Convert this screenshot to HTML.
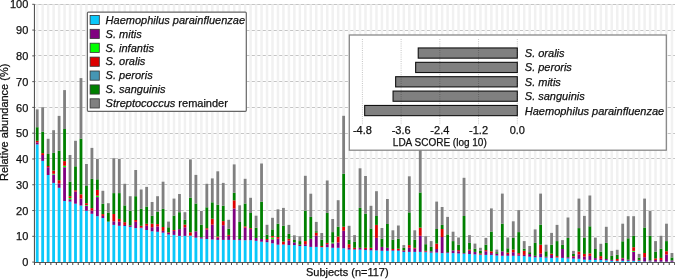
<!DOCTYPE html><html><head><meta charset="utf-8"><style>html,body{margin:0;padding:0;background:#fff;}svg{display:block;filter:blur(0.3px);}text{font-family:"Liberation Sans",sans-serif;stroke:#111;stroke-width:0.25px;}</style></head><body>
<svg width="675" height="279" viewBox="0 0 675 279">
<rect x="0" y="0" width="675" height="279" fill="#fff"/>
<line x1="34.45" y1="236.50" x2="675" y2="236.50" stroke="#c4c4c4" stroke-width="1"/>
<line x1="34.45" y1="210.50" x2="675" y2="210.50" stroke="#c4c4c4" stroke-width="1"/>
<line x1="34.45" y1="184.50" x2="675" y2="184.50" stroke="#c4c4c4" stroke-width="1"/>
<line x1="34.45" y1="158.50" x2="675" y2="158.50" stroke="#c4c4c4" stroke-width="1"/>
<line x1="34.45" y1="133.50" x2="675" y2="133.50" stroke="#c4c4c4" stroke-width="1"/>
<line x1="34.45" y1="107.50" x2="675" y2="107.50" stroke="#c4c4c4" stroke-width="1"/>
<line x1="34.45" y1="81.50" x2="675" y2="81.50" stroke="#c4c4c4" stroke-width="1"/>
<line x1="34.45" y1="55.50" x2="675" y2="55.50" stroke="#c4c4c4" stroke-width="1"/>
<line x1="34.45" y1="30.50" x2="675" y2="30.50" stroke="#c4c4c4" stroke-width="1"/>
<line x1="34.45" y1="4.50" x2="675" y2="4.50" stroke="#c4c4c4" stroke-width="1"/>
<rect x="35.95" y="4.30" width="2.5" height="257.80" fill="#f1f1f1"/>
<rect x="41.42" y="4.30" width="2.5" height="257.80" fill="#f1f1f1"/>
<rect x="46.89" y="4.30" width="2.5" height="257.80" fill="#f1f1f1"/>
<rect x="52.37" y="4.30" width="2.5" height="257.80" fill="#f1f1f1"/>
<rect x="57.84" y="4.30" width="2.5" height="257.80" fill="#f1f1f1"/>
<rect x="63.31" y="4.30" width="2.5" height="257.80" fill="#f1f1f1"/>
<rect x="68.78" y="4.30" width="2.5" height="257.80" fill="#f1f1f1"/>
<rect x="74.25" y="4.30" width="2.5" height="257.80" fill="#f1f1f1"/>
<rect x="79.73" y="4.30" width="2.5" height="257.80" fill="#f1f1f1"/>
<rect x="85.20" y="4.30" width="2.5" height="257.80" fill="#f1f1f1"/>
<rect x="90.67" y="4.30" width="2.5" height="257.80" fill="#f1f1f1"/>
<rect x="96.14" y="4.30" width="2.5" height="257.80" fill="#f1f1f1"/>
<rect x="101.61" y="4.30" width="2.5" height="257.80" fill="#f1f1f1"/>
<rect x="107.09" y="4.30" width="2.5" height="257.80" fill="#f1f1f1"/>
<rect x="112.56" y="4.30" width="2.5" height="257.80" fill="#f1f1f1"/>
<rect x="118.03" y="4.30" width="2.5" height="257.80" fill="#f1f1f1"/>
<rect x="123.50" y="4.30" width="2.5" height="257.80" fill="#f1f1f1"/>
<rect x="128.97" y="4.30" width="2.5" height="257.80" fill="#f1f1f1"/>
<rect x="134.45" y="4.30" width="2.5" height="257.80" fill="#f1f1f1"/>
<rect x="139.92" y="4.30" width="2.5" height="257.80" fill="#f1f1f1"/>
<rect x="145.39" y="4.30" width="2.5" height="257.80" fill="#f1f1f1"/>
<rect x="150.86" y="4.30" width="2.5" height="257.80" fill="#f1f1f1"/>
<rect x="156.33" y="4.30" width="2.5" height="257.80" fill="#f1f1f1"/>
<rect x="161.81" y="4.30" width="2.5" height="257.80" fill="#f1f1f1"/>
<rect x="167.28" y="4.30" width="2.5" height="257.80" fill="#f1f1f1"/>
<rect x="172.75" y="4.30" width="2.5" height="257.80" fill="#f1f1f1"/>
<rect x="178.22" y="4.30" width="2.5" height="257.80" fill="#f1f1f1"/>
<rect x="183.69" y="4.30" width="2.5" height="257.80" fill="#f1f1f1"/>
<rect x="189.17" y="4.30" width="2.5" height="257.80" fill="#f1f1f1"/>
<rect x="194.64" y="4.30" width="2.5" height="257.80" fill="#f1f1f1"/>
<rect x="200.11" y="4.30" width="2.5" height="257.80" fill="#f1f1f1"/>
<rect x="205.58" y="4.30" width="2.5" height="257.80" fill="#f1f1f1"/>
<rect x="211.05" y="4.30" width="2.5" height="257.80" fill="#f1f1f1"/>
<rect x="216.53" y="4.30" width="2.5" height="257.80" fill="#f1f1f1"/>
<rect x="222.00" y="4.30" width="2.5" height="257.80" fill="#f1f1f1"/>
<rect x="227.47" y="4.30" width="2.5" height="257.80" fill="#f1f1f1"/>
<rect x="232.94" y="4.30" width="2.5" height="257.80" fill="#f1f1f1"/>
<rect x="238.41" y="4.30" width="2.5" height="257.80" fill="#f1f1f1"/>
<rect x="243.89" y="4.30" width="2.5" height="257.80" fill="#f1f1f1"/>
<rect x="249.36" y="4.30" width="2.5" height="257.80" fill="#f1f1f1"/>
<rect x="254.83" y="4.30" width="2.5" height="257.80" fill="#f1f1f1"/>
<rect x="260.30" y="4.30" width="2.5" height="257.80" fill="#f1f1f1"/>
<rect x="265.77" y="4.30" width="2.5" height="257.80" fill="#f1f1f1"/>
<rect x="271.25" y="4.30" width="2.5" height="257.80" fill="#f1f1f1"/>
<rect x="276.72" y="4.30" width="2.5" height="257.80" fill="#f1f1f1"/>
<rect x="282.19" y="4.30" width="2.5" height="257.80" fill="#f1f1f1"/>
<rect x="287.66" y="4.30" width="2.5" height="257.80" fill="#f1f1f1"/>
<rect x="293.13" y="4.30" width="2.5" height="257.80" fill="#f1f1f1"/>
<rect x="298.61" y="4.30" width="2.5" height="257.80" fill="#f1f1f1"/>
<rect x="304.08" y="4.30" width="2.5" height="257.80" fill="#f1f1f1"/>
<rect x="309.55" y="4.30" width="2.5" height="257.80" fill="#f1f1f1"/>
<rect x="315.02" y="4.30" width="2.5" height="257.80" fill="#f1f1f1"/>
<rect x="320.49" y="4.30" width="2.5" height="257.80" fill="#f1f1f1"/>
<rect x="325.97" y="4.30" width="2.5" height="257.80" fill="#f1f1f1"/>
<rect x="331.44" y="4.30" width="2.5" height="257.80" fill="#f1f1f1"/>
<rect x="336.91" y="4.30" width="2.5" height="257.80" fill="#f1f1f1"/>
<rect x="342.38" y="4.30" width="2.5" height="257.80" fill="#f1f1f1"/>
<rect x="347.85" y="4.30" width="2.5" height="257.80" fill="#f1f1f1"/>
<rect x="353.33" y="4.30" width="2.5" height="257.80" fill="#f1f1f1"/>
<rect x="358.80" y="4.30" width="2.5" height="257.80" fill="#f1f1f1"/>
<rect x="364.27" y="4.30" width="2.5" height="257.80" fill="#f1f1f1"/>
<rect x="369.74" y="4.30" width="2.5" height="257.80" fill="#f1f1f1"/>
<rect x="375.21" y="4.30" width="2.5" height="257.80" fill="#f1f1f1"/>
<rect x="380.69" y="4.30" width="2.5" height="257.80" fill="#f1f1f1"/>
<rect x="386.16" y="4.30" width="2.5" height="257.80" fill="#f1f1f1"/>
<rect x="391.63" y="4.30" width="2.5" height="257.80" fill="#f1f1f1"/>
<rect x="397.10" y="4.30" width="2.5" height="257.80" fill="#f1f1f1"/>
<rect x="402.57" y="4.30" width="2.5" height="257.80" fill="#f1f1f1"/>
<rect x="408.05" y="4.30" width="2.5" height="257.80" fill="#f1f1f1"/>
<rect x="413.52" y="4.30" width="2.5" height="257.80" fill="#f1f1f1"/>
<rect x="418.99" y="4.30" width="2.5" height="257.80" fill="#f1f1f1"/>
<rect x="424.46" y="4.30" width="2.5" height="257.80" fill="#f1f1f1"/>
<rect x="429.93" y="4.30" width="2.5" height="257.80" fill="#f1f1f1"/>
<rect x="435.41" y="4.30" width="2.5" height="257.80" fill="#f1f1f1"/>
<rect x="440.88" y="4.30" width="2.5" height="257.80" fill="#f1f1f1"/>
<rect x="446.35" y="4.30" width="2.5" height="257.80" fill="#f1f1f1"/>
<rect x="451.82" y="4.30" width="2.5" height="257.80" fill="#f1f1f1"/>
<rect x="457.29" y="4.30" width="2.5" height="257.80" fill="#f1f1f1"/>
<rect x="462.77" y="4.30" width="2.5" height="257.80" fill="#f1f1f1"/>
<rect x="468.24" y="4.30" width="2.5" height="257.80" fill="#f1f1f1"/>
<rect x="473.71" y="4.30" width="2.5" height="257.80" fill="#f1f1f1"/>
<rect x="479.18" y="4.30" width="2.5" height="257.80" fill="#f1f1f1"/>
<rect x="484.65" y="4.30" width="2.5" height="257.80" fill="#f1f1f1"/>
<rect x="490.13" y="4.30" width="2.5" height="257.80" fill="#f1f1f1"/>
<rect x="495.60" y="4.30" width="2.5" height="257.80" fill="#f1f1f1"/>
<rect x="501.07" y="4.30" width="2.5" height="257.80" fill="#f1f1f1"/>
<rect x="506.54" y="4.30" width="2.5" height="257.80" fill="#f1f1f1"/>
<rect x="512.01" y="4.30" width="2.5" height="257.80" fill="#f1f1f1"/>
<rect x="517.49" y="4.30" width="2.5" height="257.80" fill="#f1f1f1"/>
<rect x="522.96" y="4.30" width="2.5" height="257.80" fill="#f1f1f1"/>
<rect x="528.43" y="4.30" width="2.5" height="257.80" fill="#f1f1f1"/>
<rect x="533.90" y="4.30" width="2.5" height="257.80" fill="#f1f1f1"/>
<rect x="539.37" y="4.30" width="2.5" height="257.80" fill="#f1f1f1"/>
<rect x="544.85" y="4.30" width="2.5" height="257.80" fill="#f1f1f1"/>
<rect x="550.32" y="4.30" width="2.5" height="257.80" fill="#f1f1f1"/>
<rect x="555.79" y="4.30" width="2.5" height="257.80" fill="#f1f1f1"/>
<rect x="561.26" y="4.30" width="2.5" height="257.80" fill="#f1f1f1"/>
<rect x="566.73" y="4.30" width="2.5" height="257.80" fill="#f1f1f1"/>
<rect x="572.21" y="4.30" width="2.5" height="257.80" fill="#f1f1f1"/>
<rect x="577.68" y="4.30" width="2.5" height="257.80" fill="#f1f1f1"/>
<rect x="583.15" y="4.30" width="2.5" height="257.80" fill="#f1f1f1"/>
<rect x="588.62" y="4.30" width="2.5" height="257.80" fill="#f1f1f1"/>
<rect x="594.09" y="4.30" width="2.5" height="257.80" fill="#f1f1f1"/>
<rect x="599.57" y="4.30" width="2.5" height="257.80" fill="#f1f1f1"/>
<rect x="605.04" y="4.30" width="2.5" height="257.80" fill="#f1f1f1"/>
<rect x="610.51" y="4.30" width="2.5" height="257.80" fill="#f1f1f1"/>
<rect x="615.98" y="4.30" width="2.5" height="257.80" fill="#f1f1f1"/>
<rect x="621.45" y="4.30" width="2.5" height="257.80" fill="#f1f1f1"/>
<rect x="626.93" y="4.30" width="2.5" height="257.80" fill="#f1f1f1"/>
<rect x="632.40" y="4.30" width="2.5" height="257.80" fill="#f1f1f1"/>
<rect x="637.87" y="4.30" width="2.5" height="257.80" fill="#f1f1f1"/>
<rect x="643.34" y="4.30" width="2.5" height="257.80" fill="#f1f1f1"/>
<rect x="648.81" y="4.30" width="2.5" height="257.80" fill="#f1f1f1"/>
<rect x="654.29" y="4.30" width="2.5" height="257.80" fill="#f1f1f1"/>
<rect x="659.76" y="4.30" width="2.5" height="257.80" fill="#f1f1f1"/>
<rect x="665.23" y="4.30" width="2.5" height="257.80" fill="#f1f1f1"/>
<rect x="670.70" y="4.30" width="2.5" height="257.80" fill="#f1f1f1"/>
<rect x="35.80" y="144.40" width="2.8" height="117.70" fill="#0AC8FA"/>
<rect x="35.80" y="142.40" width="2.8" height="2.00" fill="#800080"/>
<rect x="35.80" y="140.80" width="2.8" height="1.60" fill="#DD0000"/>
<rect x="35.80" y="127.20" width="2.8" height="13.60" fill="#008000"/>
<rect x="35.80" y="109.40" width="2.8" height="17.80" fill="#808080"/>
<rect x="41.27" y="160.90" width="2.8" height="101.20" fill="#0AC8FA"/>
<rect x="41.27" y="155.00" width="2.8" height="5.90" fill="#800080"/>
<rect x="41.27" y="153.10" width="2.8" height="1.90" fill="#DD0000"/>
<rect x="41.27" y="131.70" width="2.8" height="21.40" fill="#008000"/>
<rect x="41.27" y="107.20" width="2.8" height="24.50" fill="#808080"/>
<rect x="46.74" y="175.00" width="2.8" height="87.10" fill="#0AC8FA"/>
<rect x="46.74" y="167.20" width="2.8" height="7.80" fill="#800080"/>
<rect x="46.74" y="166.00" width="2.8" height="1.20" fill="#DD0000"/>
<rect x="46.74" y="154.00" width="2.8" height="12.00" fill="#008000"/>
<rect x="46.74" y="138.80" width="2.8" height="15.20" fill="#808080"/>
<rect x="52.22" y="182.90" width="2.8" height="79.20" fill="#0AC8FA"/>
<rect x="52.22" y="174.50" width="2.8" height="8.40" fill="#800080"/>
<rect x="52.22" y="173.80" width="2.8" height="0.70" fill="#00FF00"/>
<rect x="52.22" y="170.60" width="2.8" height="3.20" fill="#DD0000"/>
<rect x="52.22" y="152.90" width="2.8" height="17.70" fill="#008000"/>
<rect x="52.22" y="130.20" width="2.8" height="22.70" fill="#808080"/>
<rect x="57.69" y="187.80" width="2.8" height="74.30" fill="#0AC8FA"/>
<rect x="57.69" y="183.40" width="2.8" height="4.40" fill="#800080"/>
<rect x="57.69" y="180.20" width="2.8" height="3.20" fill="#DD0000"/>
<rect x="57.69" y="150.60" width="2.8" height="29.60" fill="#008000"/>
<rect x="57.69" y="115.90" width="2.8" height="34.70" fill="#808080"/>
<rect x="63.16" y="201.00" width="2.8" height="61.10" fill="#0AC8FA"/>
<rect x="63.16" y="167.20" width="2.8" height="33.80" fill="#800080"/>
<rect x="63.16" y="165.80" width="2.8" height="1.40" fill="#00FF00"/>
<rect x="63.16" y="161.10" width="2.8" height="4.70" fill="#DD0000"/>
<rect x="63.16" y="129.00" width="2.8" height="32.10" fill="#008000"/>
<rect x="63.16" y="90.10" width="2.8" height="38.90" fill="#808080"/>
<rect x="68.63" y="201.60" width="2.8" height="60.50" fill="#0AC8FA"/>
<rect x="68.63" y="199.20" width="2.8" height="2.40" fill="#800080"/>
<rect x="68.63" y="198.00" width="2.8" height="1.20" fill="#00FF00"/>
<rect x="68.63" y="196.20" width="2.8" height="1.80" fill="#DD0000"/>
<rect x="68.63" y="181.60" width="2.8" height="14.60" fill="#008000"/>
<rect x="68.63" y="155.00" width="2.8" height="26.60" fill="#808080"/>
<rect x="74.10" y="203.70" width="2.8" height="58.40" fill="#0AC8FA"/>
<rect x="74.10" y="191.60" width="2.8" height="12.10" fill="#800080"/>
<rect x="74.10" y="190.20" width="2.8" height="1.40" fill="#DD0000"/>
<rect x="74.10" y="166.30" width="2.8" height="23.90" fill="#008000"/>
<rect x="74.10" y="140.80" width="2.8" height="25.50" fill="#808080"/>
<rect x="79.58" y="205.50" width="2.8" height="56.60" fill="#0AC8FA"/>
<rect x="79.58" y="198.60" width="2.8" height="6.90" fill="#800080"/>
<rect x="79.58" y="194.30" width="2.8" height="4.30" fill="#DD0000"/>
<rect x="79.58" y="138.60" width="2.8" height="55.70" fill="#008000"/>
<rect x="79.58" y="78.10" width="2.8" height="60.50" fill="#808080"/>
<rect x="85.05" y="210.80" width="2.8" height="51.30" fill="#0AC8FA"/>
<rect x="85.05" y="205.70" width="2.8" height="5.10" fill="#800080"/>
<rect x="85.05" y="205.00" width="2.8" height="0.70" fill="#00FF00"/>
<rect x="85.05" y="203.20" width="2.8" height="1.80" fill="#DD0000"/>
<rect x="85.05" y="186.00" width="2.8" height="17.20" fill="#008000"/>
<rect x="85.05" y="164.00" width="2.8" height="22.00" fill="#808080"/>
<rect x="90.52" y="213.80" width="2.8" height="48.30" fill="#0AC8FA"/>
<rect x="90.52" y="210.60" width="2.8" height="3.20" fill="#800080"/>
<rect x="90.52" y="208.10" width="2.8" height="2.50" fill="#DD0000"/>
<rect x="90.52" y="178.90" width="2.8" height="29.20" fill="#008000"/>
<rect x="90.52" y="147.90" width="2.8" height="31.00" fill="#808080"/>
<rect x="95.99" y="216.20" width="2.8" height="45.90" fill="#0AC8FA"/>
<rect x="95.99" y="197.10" width="2.8" height="19.10" fill="#800080"/>
<rect x="95.99" y="195.70" width="2.8" height="1.40" fill="#00FF00"/>
<rect x="95.99" y="189.90" width="2.8" height="5.80" fill="#DD0000"/>
<rect x="95.99" y="179.30" width="2.8" height="10.60" fill="#008000"/>
<rect x="95.99" y="158.90" width="2.8" height="20.40" fill="#808080"/>
<rect x="101.46" y="218.00" width="2.8" height="44.10" fill="#0AC8FA"/>
<rect x="101.46" y="215.90" width="2.8" height="2.10" fill="#800080"/>
<rect x="101.46" y="214.10" width="2.8" height="1.80" fill="#DD0000"/>
<rect x="101.46" y="203.80" width="2.8" height="10.30" fill="#008000"/>
<rect x="101.46" y="190.80" width="2.8" height="13.00" fill="#808080"/>
<rect x="106.94" y="221.60" width="2.8" height="40.50" fill="#0AC8FA"/>
<rect x="106.94" y="212.60" width="2.8" height="9.00" fill="#008000"/>
<rect x="106.94" y="203.20" width="2.8" height="9.40" fill="#808080"/>
<rect x="112.41" y="224.90" width="2.8" height="37.20" fill="#0AC8FA"/>
<rect x="112.41" y="221.30" width="2.8" height="3.60" fill="#800080"/>
<rect x="112.41" y="214.00" width="2.8" height="7.30" fill="#DD0000"/>
<rect x="112.41" y="193.10" width="2.8" height="20.90" fill="#008000"/>
<rect x="112.41" y="158.20" width="2.8" height="34.90" fill="#808080"/>
<rect x="117.88" y="225.80" width="2.8" height="36.30" fill="#0AC8FA"/>
<rect x="117.88" y="221.60" width="2.8" height="4.20" fill="#800080"/>
<rect x="117.88" y="218.90" width="2.8" height="2.70" fill="#DD0000"/>
<rect x="117.88" y="193.10" width="2.8" height="25.80" fill="#008000"/>
<rect x="117.88" y="158.90" width="2.8" height="34.20" fill="#808080"/>
<rect x="123.35" y="226.00" width="2.8" height="36.10" fill="#0AC8FA"/>
<rect x="123.35" y="224.90" width="2.8" height="1.10" fill="#800080"/>
<rect x="123.35" y="222.20" width="2.8" height="2.70" fill="#DD0000"/>
<rect x="123.35" y="205.40" width="2.8" height="16.80" fill="#008000"/>
<rect x="123.35" y="183.80" width="2.8" height="21.60" fill="#808080"/>
<rect x="128.82" y="226.90" width="2.8" height="35.20" fill="#0AC8FA"/>
<rect x="128.82" y="225.40" width="2.8" height="1.50" fill="#800080"/>
<rect x="128.82" y="210.80" width="2.8" height="14.60" fill="#008000"/>
<rect x="128.82" y="196.20" width="2.8" height="14.60" fill="#808080"/>
<rect x="134.30" y="228.10" width="2.8" height="34.00" fill="#0AC8FA"/>
<rect x="134.30" y="221.80" width="2.8" height="6.30" fill="#800080"/>
<rect x="134.30" y="220.00" width="2.8" height="1.80" fill="#DD0000"/>
<rect x="134.30" y="196.20" width="2.8" height="23.80" fill="#008000"/>
<rect x="134.30" y="170.00" width="2.8" height="26.20" fill="#808080"/>
<rect x="139.77" y="228.20" width="2.8" height="33.90" fill="#0AC8FA"/>
<rect x="139.77" y="227.40" width="2.8" height="0.80" fill="#800080"/>
<rect x="139.77" y="225.80" width="2.8" height="1.60" fill="#DD0000"/>
<rect x="139.77" y="208.80" width="2.8" height="17.00" fill="#008000"/>
<rect x="139.77" y="189.50" width="2.8" height="19.30" fill="#808080"/>
<rect x="145.24" y="230.00" width="2.8" height="32.10" fill="#0AC8FA"/>
<rect x="145.24" y="225.80" width="2.8" height="4.20" fill="#800080"/>
<rect x="145.24" y="223.80" width="2.8" height="2.00" fill="#DD0000"/>
<rect x="145.24" y="206.50" width="2.8" height="17.30" fill="#008000"/>
<rect x="145.24" y="186.90" width="2.8" height="19.60" fill="#808080"/>
<rect x="150.71" y="231.30" width="2.8" height="30.80" fill="#0AC8FA"/>
<rect x="150.71" y="227.20" width="2.8" height="4.10" fill="#800080"/>
<rect x="150.71" y="223.70" width="2.8" height="3.50" fill="#DD0000"/>
<rect x="150.71" y="215.80" width="2.8" height="7.90" fill="#008000"/>
<rect x="150.71" y="202.00" width="2.8" height="13.80" fill="#808080"/>
<rect x="156.18" y="231.80" width="2.8" height="30.30" fill="#0AC8FA"/>
<rect x="156.18" y="226.40" width="2.8" height="5.40" fill="#800080"/>
<rect x="156.18" y="224.10" width="2.8" height="2.30" fill="#DD0000"/>
<rect x="156.18" y="211.80" width="2.8" height="12.30" fill="#008000"/>
<rect x="156.18" y="196.20" width="2.8" height="15.60" fill="#808080"/>
<rect x="161.66" y="232.70" width="2.8" height="29.40" fill="#0AC8FA"/>
<rect x="161.66" y="230.90" width="2.8" height="1.80" fill="#800080"/>
<rect x="161.66" y="227.00" width="2.8" height="3.90" fill="#DD0000"/>
<rect x="161.66" y="208.90" width="2.8" height="18.10" fill="#008000"/>
<rect x="161.66" y="181.70" width="2.8" height="27.20" fill="#808080"/>
<rect x="167.13" y="234.50" width="2.8" height="27.60" fill="#0AC8FA"/>
<rect x="167.13" y="233.00" width="2.8" height="1.50" fill="#800080"/>
<rect x="167.13" y="232.30" width="2.8" height="0.70" fill="#DD0000"/>
<rect x="167.13" y="227.30" width="2.8" height="5.00" fill="#008000"/>
<rect x="167.13" y="221.60" width="2.8" height="5.70" fill="#808080"/>
<rect x="172.60" y="234.90" width="2.8" height="27.20" fill="#0AC8FA"/>
<rect x="172.60" y="230.90" width="2.8" height="4.00" fill="#800080"/>
<rect x="172.60" y="230.00" width="2.8" height="0.90" fill="#DD0000"/>
<rect x="172.60" y="215.60" width="2.8" height="14.40" fill="#008000"/>
<rect x="172.60" y="198.60" width="2.8" height="17.00" fill="#808080"/>
<rect x="178.07" y="235.90" width="2.8" height="26.20" fill="#0AC8FA"/>
<rect x="178.07" y="229.10" width="2.8" height="6.80" fill="#800080"/>
<rect x="178.07" y="212.20" width="2.8" height="16.90" fill="#008000"/>
<rect x="178.07" y="194.00" width="2.8" height="18.20" fill="#808080"/>
<rect x="183.54" y="235.90" width="2.8" height="26.20" fill="#0AC8FA"/>
<rect x="183.54" y="227.30" width="2.8" height="8.60" fill="#800080"/>
<rect x="183.54" y="224.60" width="2.8" height="2.70" fill="#DD0000"/>
<rect x="183.54" y="219.80" width="2.8" height="4.80" fill="#008000"/>
<rect x="183.54" y="212.20" width="2.8" height="7.60" fill="#808080"/>
<rect x="189.02" y="235.90" width="2.8" height="26.20" fill="#0AC8FA"/>
<rect x="189.02" y="235.40" width="2.8" height="0.50" fill="#800080"/>
<rect x="189.02" y="232.30" width="2.8" height="3.10" fill="#DD0000"/>
<rect x="189.02" y="197.70" width="2.8" height="34.60" fill="#008000"/>
<rect x="189.02" y="159.40" width="2.8" height="38.30" fill="#808080"/>
<rect x="194.49" y="237.70" width="2.8" height="24.40" fill="#0AC8FA"/>
<rect x="194.49" y="231.30" width="2.8" height="6.40" fill="#800080"/>
<rect x="194.49" y="203.50" width="2.8" height="27.80" fill="#008000"/>
<rect x="194.49" y="174.90" width="2.8" height="28.60" fill="#808080"/>
<rect x="199.96" y="238.60" width="2.8" height="23.50" fill="#0AC8FA"/>
<rect x="199.96" y="237.20" width="2.8" height="1.40" fill="#800080"/>
<rect x="199.96" y="224.60" width="2.8" height="12.60" fill="#008000"/>
<rect x="199.96" y="211.00" width="2.8" height="13.60" fill="#808080"/>
<rect x="205.43" y="239.00" width="2.8" height="23.10" fill="#0AC8FA"/>
<rect x="205.43" y="229.50" width="2.8" height="9.50" fill="#800080"/>
<rect x="205.43" y="228.20" width="2.8" height="1.30" fill="#DD0000"/>
<rect x="205.43" y="207.30" width="2.8" height="20.90" fill="#008000"/>
<rect x="205.43" y="183.80" width="2.8" height="23.50" fill="#808080"/>
<rect x="210.90" y="239.50" width="2.8" height="22.60" fill="#0AC8FA"/>
<rect x="210.90" y="224.60" width="2.8" height="14.90" fill="#800080"/>
<rect x="210.90" y="218.70" width="2.8" height="5.90" fill="#DD0000"/>
<rect x="210.90" y="202.30" width="2.8" height="16.40" fill="#008000"/>
<rect x="210.90" y="178.40" width="2.8" height="23.90" fill="#808080"/>
<rect x="216.38" y="239.90" width="2.8" height="22.20" fill="#0AC8FA"/>
<rect x="216.38" y="237.70" width="2.8" height="2.20" fill="#800080"/>
<rect x="216.38" y="236.60" width="2.8" height="1.10" fill="#DD0000"/>
<rect x="216.38" y="204.80" width="2.8" height="31.80" fill="#008000"/>
<rect x="216.38" y="171.30" width="2.8" height="33.50" fill="#808080"/>
<rect x="221.85" y="239.90" width="2.8" height="22.20" fill="#0AC8FA"/>
<rect x="221.85" y="225.20" width="2.8" height="14.70" fill="#800080"/>
<rect x="221.85" y="221.10" width="2.8" height="4.10" fill="#DD0000"/>
<rect x="221.85" y="205.70" width="2.8" height="15.40" fill="#008000"/>
<rect x="221.85" y="182.90" width="2.8" height="22.80" fill="#808080"/>
<rect x="227.32" y="239.90" width="2.8" height="22.20" fill="#0AC8FA"/>
<rect x="227.32" y="235.90" width="2.8" height="4.00" fill="#800080"/>
<rect x="227.32" y="234.90" width="2.8" height="1.00" fill="#DD0000"/>
<rect x="227.32" y="228.80" width="2.8" height="6.10" fill="#008000"/>
<rect x="227.32" y="219.80" width="2.8" height="9.00" fill="#808080"/>
<rect x="232.79" y="239.90" width="2.8" height="22.20" fill="#0AC8FA"/>
<rect x="232.79" y="208.50" width="2.8" height="31.40" fill="#800080"/>
<rect x="232.79" y="200.30" width="2.8" height="8.20" fill="#DD0000"/>
<rect x="232.79" y="192.80" width="2.8" height="7.50" fill="#008000"/>
<rect x="232.79" y="164.40" width="2.8" height="28.40" fill="#808080"/>
<rect x="238.26" y="240.20" width="2.8" height="21.90" fill="#0AC8FA"/>
<rect x="238.26" y="239.00" width="2.8" height="1.20" fill="#800080"/>
<rect x="238.26" y="222.00" width="2.8" height="17.00" fill="#008000"/>
<rect x="238.26" y="205.30" width="2.8" height="16.70" fill="#808080"/>
<rect x="243.74" y="240.20" width="2.8" height="21.90" fill="#0AC8FA"/>
<rect x="243.74" y="227.70" width="2.8" height="12.50" fill="#800080"/>
<rect x="243.74" y="226.40" width="2.8" height="1.30" fill="#DD0000"/>
<rect x="243.74" y="203.50" width="2.8" height="22.90" fill="#008000"/>
<rect x="243.74" y="178.80" width="2.8" height="24.70" fill="#808080"/>
<rect x="249.21" y="240.20" width="2.8" height="21.90" fill="#0AC8FA"/>
<rect x="249.21" y="229.10" width="2.8" height="11.10" fill="#800080"/>
<rect x="249.21" y="228.20" width="2.8" height="0.90" fill="#DD0000"/>
<rect x="249.21" y="213.00" width="2.8" height="15.20" fill="#008000"/>
<rect x="249.21" y="197.80" width="2.8" height="15.20" fill="#808080"/>
<rect x="254.68" y="240.80" width="2.8" height="21.30" fill="#0AC8FA"/>
<rect x="254.68" y="238.00" width="2.8" height="2.80" fill="#800080"/>
<rect x="254.68" y="227.70" width="2.8" height="10.30" fill="#008000"/>
<rect x="254.68" y="215.70" width="2.8" height="12.00" fill="#808080"/>
<rect x="260.15" y="241.70" width="2.8" height="20.40" fill="#0AC8FA"/>
<rect x="260.15" y="239.00" width="2.8" height="2.70" fill="#800080"/>
<rect x="260.15" y="201.70" width="2.8" height="37.30" fill="#008000"/>
<rect x="260.15" y="163.50" width="2.8" height="38.20" fill="#808080"/>
<rect x="265.62" y="242.20" width="2.8" height="19.90" fill="#0AC8FA"/>
<rect x="265.62" y="240.10" width="2.8" height="2.10" fill="#800080"/>
<rect x="265.62" y="239.00" width="2.8" height="1.10" fill="#DD0000"/>
<rect x="265.62" y="234.60" width="2.8" height="4.40" fill="#008000"/>
<rect x="265.62" y="224.80" width="2.8" height="9.80" fill="#808080"/>
<rect x="271.10" y="243.30" width="2.8" height="18.80" fill="#0AC8FA"/>
<rect x="271.10" y="239.30" width="2.8" height="4.00" fill="#800080"/>
<rect x="271.10" y="237.50" width="2.8" height="1.80" fill="#00FF00"/>
<rect x="271.10" y="236.10" width="2.8" height="1.40" fill="#DD0000"/>
<rect x="271.10" y="229.40" width="2.8" height="6.70" fill="#008000"/>
<rect x="271.10" y="217.80" width="2.8" height="11.60" fill="#808080"/>
<rect x="276.57" y="244.70" width="2.8" height="17.40" fill="#0AC8FA"/>
<rect x="276.57" y="238.80" width="2.8" height="5.90" fill="#800080"/>
<rect x="276.57" y="237.00" width="2.8" height="1.80" fill="#DD0000"/>
<rect x="276.57" y="223.70" width="2.8" height="13.30" fill="#008000"/>
<rect x="276.57" y="209.30" width="2.8" height="14.40" fill="#808080"/>
<rect x="282.04" y="244.70" width="2.8" height="17.40" fill="#0AC8FA"/>
<rect x="282.04" y="244.20" width="2.8" height="0.50" fill="#800080"/>
<rect x="282.04" y="241.50" width="2.8" height="2.70" fill="#DD0000"/>
<rect x="282.04" y="225.80" width="2.8" height="15.70" fill="#008000"/>
<rect x="282.04" y="207.90" width="2.8" height="17.90" fill="#808080"/>
<rect x="287.51" y="245.10" width="2.8" height="17.00" fill="#0AC8FA"/>
<rect x="287.51" y="240.60" width="2.8" height="4.50" fill="#800080"/>
<rect x="287.51" y="238.80" width="2.8" height="1.80" fill="#DD0000"/>
<rect x="287.51" y="233.90" width="2.8" height="4.90" fill="#008000"/>
<rect x="287.51" y="224.90" width="2.8" height="9.00" fill="#808080"/>
<rect x="292.98" y="245.10" width="2.8" height="17.00" fill="#0AC8FA"/>
<rect x="292.98" y="242.40" width="2.8" height="2.70" fill="#800080"/>
<rect x="292.98" y="240.00" width="2.8" height="2.40" fill="#008000"/>
<rect x="292.98" y="235.30" width="2.8" height="4.70" fill="#808080"/>
<rect x="298.46" y="246.00" width="2.8" height="16.10" fill="#0AC8FA"/>
<rect x="298.46" y="244.70" width="2.8" height="1.30" fill="#800080"/>
<rect x="298.46" y="241.10" width="2.8" height="3.60" fill="#008000"/>
<rect x="298.46" y="236.20" width="2.8" height="4.90" fill="#808080"/>
<rect x="303.93" y="246.00" width="2.8" height="16.10" fill="#0AC8FA"/>
<rect x="303.93" y="244.20" width="2.8" height="1.80" fill="#800080"/>
<rect x="303.93" y="241.10" width="2.8" height="3.10" fill="#DD0000"/>
<rect x="303.93" y="210.60" width="2.8" height="30.50" fill="#008000"/>
<rect x="303.93" y="175.80" width="2.8" height="34.80" fill="#808080"/>
<rect x="309.40" y="246.90" width="2.8" height="15.20" fill="#0AC8FA"/>
<rect x="309.40" y="238.80" width="2.8" height="8.10" fill="#800080"/>
<rect x="309.40" y="216.90" width="2.8" height="21.90" fill="#008000"/>
<rect x="309.40" y="193.70" width="2.8" height="23.20" fill="#808080"/>
<rect x="314.87" y="246.90" width="2.8" height="15.20" fill="#0AC8FA"/>
<rect x="314.87" y="235.70" width="2.8" height="11.20" fill="#800080"/>
<rect x="314.87" y="232.60" width="2.8" height="3.10" fill="#DD0000"/>
<rect x="314.87" y="231.20" width="2.8" height="1.40" fill="#008000"/>
<rect x="314.87" y="221.90" width="2.8" height="9.30" fill="#808080"/>
<rect x="320.34" y="247.20" width="2.8" height="14.90" fill="#0AC8FA"/>
<rect x="320.34" y="246.00" width="2.8" height="1.20" fill="#DD0000"/>
<rect x="320.34" y="239.70" width="2.8" height="6.30" fill="#008000"/>
<rect x="320.34" y="233.00" width="2.8" height="6.70" fill="#808080"/>
<rect x="325.82" y="247.20" width="2.8" height="14.90" fill="#0AC8FA"/>
<rect x="325.82" y="244.20" width="2.8" height="3.00" fill="#800080"/>
<rect x="325.82" y="242.90" width="2.8" height="1.30" fill="#DD0000"/>
<rect x="325.82" y="212.90" width="2.8" height="30.00" fill="#008000"/>
<rect x="325.82" y="180.50" width="2.8" height="32.40" fill="#808080"/>
<rect x="331.29" y="247.80" width="2.8" height="14.30" fill="#0AC8FA"/>
<rect x="331.29" y="243.30" width="2.8" height="4.50" fill="#800080"/>
<rect x="331.29" y="242.40" width="2.8" height="0.90" fill="#00FF00"/>
<rect x="331.29" y="232.10" width="2.8" height="10.30" fill="#008000"/>
<rect x="331.29" y="219.00" width="2.8" height="13.10" fill="#808080"/>
<rect x="336.76" y="247.80" width="2.8" height="14.30" fill="#0AC8FA"/>
<rect x="336.76" y="242.40" width="2.8" height="5.40" fill="#800080"/>
<rect x="336.76" y="236.50" width="2.8" height="5.90" fill="#DD0000"/>
<rect x="336.76" y="226.70" width="2.8" height="9.80" fill="#008000"/>
<rect x="336.76" y="200.20" width="2.8" height="26.50" fill="#808080"/>
<rect x="342.23" y="248.30" width="2.8" height="13.80" fill="#0AC8FA"/>
<rect x="342.23" y="230.80" width="2.8" height="17.50" fill="#800080"/>
<rect x="342.23" y="226.70" width="2.8" height="4.10" fill="#DD0000"/>
<rect x="342.23" y="173.70" width="2.8" height="53.00" fill="#008000"/>
<rect x="342.23" y="115.80" width="2.8" height="57.90" fill="#808080"/>
<rect x="347.70" y="249.60" width="2.8" height="12.50" fill="#0AC8FA"/>
<rect x="347.70" y="247.80" width="2.8" height="1.80" fill="#800080"/>
<rect x="347.70" y="244.20" width="2.8" height="3.60" fill="#DD0000"/>
<rect x="347.70" y="239.70" width="2.8" height="4.50" fill="#008000"/>
<rect x="347.70" y="225.80" width="2.8" height="13.90" fill="#808080"/>
<rect x="353.18" y="249.60" width="2.8" height="12.50" fill="#0AC8FA"/>
<rect x="353.18" y="249.00" width="2.8" height="0.60" fill="#800080"/>
<rect x="353.18" y="247.80" width="2.8" height="1.20" fill="#DD0000"/>
<rect x="353.18" y="241.90" width="2.8" height="5.90" fill="#008000"/>
<rect x="353.18" y="235.10" width="2.8" height="6.80" fill="#808080"/>
<rect x="358.65" y="249.60" width="2.8" height="12.50" fill="#0AC8FA"/>
<rect x="358.65" y="247.80" width="2.8" height="1.80" fill="#800080"/>
<rect x="358.65" y="207.90" width="2.8" height="39.90" fill="#008000"/>
<rect x="358.65" y="168.30" width="2.8" height="39.60" fill="#808080"/>
<rect x="364.12" y="250.10" width="2.8" height="12.00" fill="#0AC8FA"/>
<rect x="364.12" y="249.00" width="2.8" height="1.10" fill="#800080"/>
<rect x="364.12" y="247.80" width="2.8" height="1.20" fill="#DD0000"/>
<rect x="364.12" y="213.60" width="2.8" height="34.20" fill="#008000"/>
<rect x="364.12" y="176.00" width="2.8" height="37.60" fill="#808080"/>
<rect x="369.59" y="250.40" width="2.8" height="11.70" fill="#0AC8FA"/>
<rect x="369.59" y="249.00" width="2.8" height="1.40" fill="#800080"/>
<rect x="369.59" y="247.80" width="2.8" height="1.20" fill="#DD0000"/>
<rect x="369.59" y="228.50" width="2.8" height="19.30" fill="#008000"/>
<rect x="369.59" y="205.80" width="2.8" height="22.70" fill="#808080"/>
<rect x="375.06" y="250.40" width="2.8" height="11.70" fill="#0AC8FA"/>
<rect x="375.06" y="237.90" width="2.8" height="12.50" fill="#800080"/>
<rect x="375.06" y="224.90" width="2.8" height="13.00" fill="#DD0000"/>
<rect x="375.06" y="216.00" width="2.8" height="8.90" fill="#008000"/>
<rect x="375.06" y="191.20" width="2.8" height="24.80" fill="#808080"/>
<rect x="380.54" y="250.80" width="2.8" height="11.30" fill="#0AC8FA"/>
<rect x="380.54" y="246.90" width="2.8" height="3.90" fill="#800080"/>
<rect x="380.54" y="238.80" width="2.8" height="8.10" fill="#008000"/>
<rect x="380.54" y="228.00" width="2.8" height="10.80" fill="#808080"/>
<rect x="386.01" y="250.80" width="2.8" height="11.30" fill="#0AC8FA"/>
<rect x="386.01" y="247.80" width="2.8" height="3.00" fill="#800080"/>
<rect x="386.01" y="224.00" width="2.8" height="23.80" fill="#008000"/>
<rect x="386.01" y="199.00" width="2.8" height="25.00" fill="#808080"/>
<rect x="391.48" y="250.80" width="2.8" height="11.30" fill="#0AC8FA"/>
<rect x="391.48" y="250.10" width="2.8" height="0.70" fill="#800080"/>
<rect x="391.48" y="249.00" width="2.8" height="1.10" fill="#DD0000"/>
<rect x="391.48" y="239.70" width="2.8" height="9.30" fill="#008000"/>
<rect x="391.48" y="230.30" width="2.8" height="9.40" fill="#808080"/>
<rect x="396.95" y="250.80" width="2.8" height="11.30" fill="#0AC8FA"/>
<rect x="396.95" y="250.10" width="2.8" height="0.70" fill="#800080"/>
<rect x="396.95" y="248.70" width="2.8" height="1.40" fill="#DD0000"/>
<rect x="396.95" y="238.80" width="2.8" height="9.90" fill="#008000"/>
<rect x="396.95" y="225.50" width="2.8" height="13.30" fill="#808080"/>
<rect x="402.42" y="251.90" width="2.8" height="10.20" fill="#0AC8FA"/>
<rect x="402.42" y="251.00" width="2.8" height="0.90" fill="#800080"/>
<rect x="402.42" y="250.40" width="2.8" height="0.60" fill="#DD0000"/>
<rect x="402.42" y="247.80" width="2.8" height="2.60" fill="#008000"/>
<rect x="402.42" y="245.10" width="2.8" height="2.70" fill="#808080"/>
<rect x="407.90" y="251.90" width="2.8" height="10.20" fill="#0AC8FA"/>
<rect x="407.90" y="247.80" width="2.8" height="4.10" fill="#800080"/>
<rect x="407.90" y="245.10" width="2.8" height="2.70" fill="#DD0000"/>
<rect x="407.90" y="212.40" width="2.8" height="32.70" fill="#008000"/>
<rect x="407.90" y="176.30" width="2.8" height="36.10" fill="#808080"/>
<rect x="413.37" y="251.90" width="2.8" height="10.20" fill="#0AC8FA"/>
<rect x="413.37" y="248.70" width="2.8" height="3.20" fill="#800080"/>
<rect x="413.37" y="247.80" width="2.8" height="0.90" fill="#DD0000"/>
<rect x="413.37" y="239.70" width="2.8" height="8.10" fill="#008000"/>
<rect x="413.37" y="230.30" width="2.8" height="9.40" fill="#808080"/>
<rect x="418.84" y="251.90" width="2.8" height="10.20" fill="#0AC8FA"/>
<rect x="418.84" y="235.80" width="2.8" height="16.10" fill="#800080"/>
<rect x="418.84" y="227.60" width="2.8" height="8.20" fill="#DD0000"/>
<rect x="418.84" y="192.50" width="2.8" height="35.10" fill="#008000"/>
<rect x="418.84" y="140.00" width="2.8" height="52.50" fill="#808080"/>
<rect x="424.31" y="252.20" width="2.8" height="9.90" fill="#0AC8FA"/>
<rect x="424.31" y="251.50" width="2.8" height="0.70" fill="#800080"/>
<rect x="424.31" y="250.80" width="2.8" height="0.70" fill="#DD0000"/>
<rect x="424.31" y="244.20" width="2.8" height="6.60" fill="#008000"/>
<rect x="424.31" y="236.20" width="2.8" height="8.00" fill="#808080"/>
<rect x="429.78" y="252.60" width="2.8" height="9.50" fill="#0AC8FA"/>
<rect x="429.78" y="251.30" width="2.8" height="1.30" fill="#800080"/>
<rect x="429.78" y="246.90" width="2.8" height="4.40" fill="#008000"/>
<rect x="429.78" y="241.10" width="2.8" height="5.80" fill="#808080"/>
<rect x="435.26" y="252.60" width="2.8" height="9.50" fill="#0AC8FA"/>
<rect x="435.26" y="249.00" width="2.8" height="3.60" fill="#800080"/>
<rect x="435.26" y="243.60" width="2.8" height="5.40" fill="#DD0000"/>
<rect x="435.26" y="229.00" width="2.8" height="14.60" fill="#008000"/>
<rect x="435.26" y="201.60" width="2.8" height="27.40" fill="#808080"/>
<rect x="440.73" y="253.10" width="2.8" height="9.00" fill="#0AC8FA"/>
<rect x="440.73" y="237.00" width="2.8" height="16.10" fill="#800080"/>
<rect x="440.73" y="229.00" width="2.8" height="8.00" fill="#DD0000"/>
<rect x="440.73" y="224.90" width="2.8" height="4.10" fill="#008000"/>
<rect x="440.73" y="207.00" width="2.8" height="17.90" fill="#808080"/>
<rect x="446.20" y="253.10" width="2.8" height="9.00" fill="#0AC8FA"/>
<rect x="446.20" y="252.20" width="2.8" height="0.90" fill="#800080"/>
<rect x="446.20" y="234.40" width="2.8" height="17.80" fill="#008000"/>
<rect x="446.20" y="216.90" width="2.8" height="17.50" fill="#808080"/>
<rect x="451.67" y="253.10" width="2.8" height="9.00" fill="#0AC8FA"/>
<rect x="451.67" y="250.40" width="2.8" height="2.70" fill="#800080"/>
<rect x="451.67" y="241.10" width="2.8" height="9.30" fill="#008000"/>
<rect x="451.67" y="231.70" width="2.8" height="9.40" fill="#808080"/>
<rect x="457.14" y="253.50" width="2.8" height="8.60" fill="#0AC8FA"/>
<rect x="457.14" y="251.30" width="2.8" height="2.20" fill="#800080"/>
<rect x="457.14" y="250.10" width="2.8" height="1.20" fill="#DD0000"/>
<rect x="457.14" y="244.70" width="2.8" height="5.40" fill="#008000"/>
<rect x="457.14" y="237.50" width="2.8" height="7.20" fill="#808080"/>
<rect x="462.62" y="253.80" width="2.8" height="8.30" fill="#0AC8FA"/>
<rect x="462.62" y="253.10" width="2.8" height="0.70" fill="#800080"/>
<rect x="462.62" y="216.00" width="2.8" height="37.10" fill="#008000"/>
<rect x="462.62" y="177.80" width="2.8" height="38.20" fill="#808080"/>
<rect x="468.09" y="254.00" width="2.8" height="8.10" fill="#0AC8FA"/>
<rect x="468.09" y="250.80" width="2.8" height="3.20" fill="#800080"/>
<rect x="468.09" y="249.60" width="2.8" height="1.20" fill="#DD0000"/>
<rect x="468.09" y="242.90" width="2.8" height="6.70" fill="#008000"/>
<rect x="468.09" y="235.10" width="2.8" height="7.80" fill="#808080"/>
<rect x="473.56" y="254.40" width="2.8" height="7.70" fill="#0AC8FA"/>
<rect x="473.56" y="251.90" width="2.8" height="2.50" fill="#800080"/>
<rect x="473.56" y="248.70" width="2.8" height="3.20" fill="#008000"/>
<rect x="473.56" y="243.60" width="2.8" height="5.10" fill="#808080"/>
<rect x="479.03" y="254.90" width="2.8" height="7.20" fill="#0AC8FA"/>
<rect x="479.03" y="254.40" width="2.8" height="0.50" fill="#800080"/>
<rect x="479.03" y="253.50" width="2.8" height="0.90" fill="#DD0000"/>
<rect x="479.03" y="250.80" width="2.8" height="2.70" fill="#008000"/>
<rect x="479.03" y="247.80" width="2.8" height="3.00" fill="#808080"/>
<rect x="484.50" y="254.90" width="2.8" height="7.20" fill="#0AC8FA"/>
<rect x="484.50" y="251.30" width="2.8" height="3.60" fill="#800080"/>
<rect x="484.50" y="250.10" width="2.8" height="1.20" fill="#DD0000"/>
<rect x="484.50" y="244.70" width="2.8" height="5.40" fill="#008000"/>
<rect x="484.50" y="237.90" width="2.8" height="6.80" fill="#808080"/>
<rect x="489.98" y="254.90" width="2.8" height="7.20" fill="#0AC8FA"/>
<rect x="489.98" y="253.10" width="2.8" height="1.80" fill="#800080"/>
<rect x="489.98" y="251.30" width="2.8" height="1.80" fill="#DD0000"/>
<rect x="489.98" y="231.60" width="2.8" height="19.70" fill="#008000"/>
<rect x="489.98" y="208.40" width="2.8" height="23.20" fill="#808080"/>
<rect x="495.45" y="255.50" width="2.8" height="6.60" fill="#0AC8FA"/>
<rect x="495.45" y="253.70" width="2.8" height="1.80" fill="#800080"/>
<rect x="495.45" y="252.20" width="2.8" height="1.50" fill="#008000"/>
<rect x="495.45" y="249.60" width="2.8" height="2.60" fill="#808080"/>
<rect x="500.92" y="255.80" width="2.8" height="6.30" fill="#0AC8FA"/>
<rect x="500.92" y="251.30" width="2.8" height="4.50" fill="#800080"/>
<rect x="500.92" y="223.70" width="2.8" height="27.60" fill="#008000"/>
<rect x="500.92" y="193.60" width="2.8" height="30.10" fill="#808080"/>
<rect x="506.39" y="255.80" width="2.8" height="6.30" fill="#0AC8FA"/>
<rect x="506.39" y="254.00" width="2.8" height="1.80" fill="#800080"/>
<rect x="506.39" y="252.60" width="2.8" height="1.40" fill="#DD0000"/>
<rect x="506.39" y="248.30" width="2.8" height="4.30" fill="#008000"/>
<rect x="506.39" y="237.50" width="2.8" height="10.80" fill="#808080"/>
<rect x="511.86" y="255.80" width="2.8" height="6.30" fill="#0AC8FA"/>
<rect x="511.86" y="252.20" width="2.8" height="3.60" fill="#800080"/>
<rect x="511.86" y="249.60" width="2.8" height="2.60" fill="#DD0000"/>
<rect x="511.86" y="237.90" width="2.8" height="11.70" fill="#008000"/>
<rect x="511.86" y="221.30" width="2.8" height="16.60" fill="#808080"/>
<rect x="517.34" y="255.80" width="2.8" height="6.30" fill="#0AC8FA"/>
<rect x="517.34" y="254.40" width="2.8" height="1.40" fill="#800080"/>
<rect x="517.34" y="253.10" width="2.8" height="1.30" fill="#DD0000"/>
<rect x="517.34" y="232.10" width="2.8" height="21.00" fill="#008000"/>
<rect x="517.34" y="210.10" width="2.8" height="22.00" fill="#808080"/>
<rect x="522.81" y="256.20" width="2.8" height="5.90" fill="#0AC8FA"/>
<rect x="522.81" y="254.90" width="2.8" height="1.30" fill="#800080"/>
<rect x="522.81" y="250.80" width="2.8" height="4.10" fill="#DD0000"/>
<rect x="522.81" y="248.70" width="2.8" height="2.10" fill="#008000"/>
<rect x="522.81" y="241.10" width="2.8" height="7.60" fill="#808080"/>
<rect x="528.28" y="256.70" width="2.8" height="5.40" fill="#0AC8FA"/>
<rect x="528.28" y="254.00" width="2.8" height="2.70" fill="#800080"/>
<rect x="528.28" y="252.20" width="2.8" height="1.80" fill="#008000"/>
<rect x="528.28" y="246.00" width="2.8" height="6.20" fill="#808080"/>
<rect x="533.75" y="257.30" width="2.8" height="4.80" fill="#0AC8FA"/>
<rect x="533.75" y="255.80" width="2.8" height="1.50" fill="#800080"/>
<rect x="533.75" y="242.90" width="2.8" height="12.90" fill="#008000"/>
<rect x="533.75" y="229.40" width="2.8" height="13.50" fill="#808080"/>
<rect x="539.22" y="257.30" width="2.8" height="4.80" fill="#0AC8FA"/>
<rect x="539.22" y="253.70" width="2.8" height="3.60" fill="#800080"/>
<rect x="539.22" y="244.70" width="2.8" height="9.00" fill="#DD0000"/>
<rect x="539.22" y="224.60" width="2.8" height="20.10" fill="#008000"/>
<rect x="539.22" y="193.60" width="2.8" height="31.00" fill="#808080"/>
<rect x="544.70" y="257.60" width="2.8" height="4.50" fill="#0AC8FA"/>
<rect x="544.70" y="256.70" width="2.8" height="0.90" fill="#800080"/>
<rect x="544.70" y="251.30" width="2.8" height="5.40" fill="#008000"/>
<rect x="544.70" y="244.70" width="2.8" height="6.60" fill="#808080"/>
<rect x="550.17" y="258.00" width="2.8" height="4.10" fill="#0AC8FA"/>
<rect x="550.17" y="255.00" width="2.8" height="3.00" fill="#800080"/>
<rect x="550.17" y="253.70" width="2.8" height="1.30" fill="#DD0000"/>
<rect x="550.17" y="244.70" width="2.8" height="9.00" fill="#008000"/>
<rect x="550.17" y="232.90" width="2.8" height="11.80" fill="#808080"/>
<rect x="555.64" y="257.50" width="2.8" height="4.60" fill="#0AC8FA"/>
<rect x="555.64" y="256.10" width="2.8" height="1.40" fill="#DD0000"/>
<rect x="555.64" y="241.10" width="2.8" height="15.00" fill="#008000"/>
<rect x="555.64" y="224.90" width="2.8" height="16.20" fill="#808080"/>
<rect x="561.11" y="257.90" width="2.8" height="4.20" fill="#0AC8FA"/>
<rect x="561.11" y="249.00" width="2.8" height="8.90" fill="#800080"/>
<rect x="561.11" y="244.90" width="2.8" height="4.10" fill="#008000"/>
<rect x="561.11" y="240.10" width="2.8" height="4.80" fill="#808080"/>
<rect x="566.58" y="258.40" width="2.8" height="3.70" fill="#0AC8FA"/>
<rect x="566.58" y="257.20" width="2.8" height="1.20" fill="#800080"/>
<rect x="566.58" y="237.90" width="2.8" height="19.30" fill="#008000"/>
<rect x="566.58" y="217.50" width="2.8" height="20.40" fill="#808080"/>
<rect x="572.06" y="258.60" width="2.8" height="3.50" fill="#0AC8FA"/>
<rect x="572.06" y="256.80" width="2.8" height="1.80" fill="#800080"/>
<rect x="572.06" y="256.10" width="2.8" height="0.70" fill="#DD0000"/>
<rect x="572.06" y="253.90" width="2.8" height="2.20" fill="#008000"/>
<rect x="572.06" y="250.90" width="2.8" height="3.00" fill="#808080"/>
<rect x="577.53" y="258.80" width="2.8" height="3.30" fill="#0AC8FA"/>
<rect x="577.53" y="254.30" width="2.8" height="4.50" fill="#800080"/>
<rect x="577.53" y="251.60" width="2.8" height="2.70" fill="#DD0000"/>
<rect x="577.53" y="228.10" width="2.8" height="23.50" fill="#008000"/>
<rect x="577.53" y="198.60" width="2.8" height="29.50" fill="#808080"/>
<rect x="583.00" y="259.70" width="2.8" height="2.40" fill="#0AC8FA"/>
<rect x="583.00" y="256.60" width="2.8" height="3.10" fill="#800080"/>
<rect x="583.00" y="253.90" width="2.8" height="2.70" fill="#DD0000"/>
<rect x="583.00" y="237.60" width="2.8" height="16.30" fill="#008000"/>
<rect x="583.00" y="215.90" width="2.8" height="21.70" fill="#808080"/>
<rect x="588.47" y="259.90" width="2.8" height="2.20" fill="#0AC8FA"/>
<rect x="588.47" y="255.90" width="2.8" height="4.00" fill="#800080"/>
<rect x="588.47" y="253.40" width="2.8" height="2.50" fill="#DD0000"/>
<rect x="588.47" y="226.30" width="2.8" height="27.10" fill="#008000"/>
<rect x="588.47" y="195.50" width="2.8" height="30.80" fill="#808080"/>
<rect x="593.94" y="259.90" width="2.8" height="2.20" fill="#0AC8FA"/>
<rect x="593.94" y="258.10" width="2.8" height="1.80" fill="#800080"/>
<rect x="593.94" y="249.00" width="2.8" height="9.10" fill="#008000"/>
<rect x="593.94" y="237.60" width="2.8" height="11.40" fill="#808080"/>
<rect x="599.42" y="260.10" width="2.8" height="2.00" fill="#0AC8FA"/>
<rect x="599.42" y="258.80" width="2.8" height="1.30" fill="#800080"/>
<rect x="599.42" y="256.10" width="2.8" height="2.70" fill="#DD0000"/>
<rect x="599.42" y="251.60" width="2.8" height="4.50" fill="#008000"/>
<rect x="599.42" y="243.80" width="2.8" height="7.80" fill="#808080"/>
<rect x="604.89" y="260.40" width="2.8" height="1.70" fill="#0AC8FA"/>
<rect x="604.89" y="259.00" width="2.8" height="1.40" fill="#800080"/>
<rect x="604.89" y="242.90" width="2.8" height="16.10" fill="#008000"/>
<rect x="604.89" y="226.80" width="2.8" height="16.10" fill="#808080"/>
<rect x="610.36" y="260.80" width="2.8" height="1.30" fill="#0AC8FA"/>
<rect x="610.36" y="259.90" width="2.8" height="0.90" fill="#800080"/>
<rect x="610.36" y="255.90" width="2.8" height="4.00" fill="#008000"/>
<rect x="610.36" y="250.90" width="2.8" height="5.00" fill="#808080"/>
<rect x="615.83" y="261.20" width="2.8" height="0.90" fill="#0AC8FA"/>
<rect x="615.83" y="260.80" width="2.8" height="0.40" fill="#800080"/>
<rect x="615.83" y="259.00" width="2.8" height="1.80" fill="#DD0000"/>
<rect x="615.83" y="254.80" width="2.8" height="4.20" fill="#008000"/>
<rect x="615.83" y="249.80" width="2.8" height="5.00" fill="#808080"/>
<rect x="621.30" y="260.80" width="2.8" height="1.30" fill="#0AC8FA"/>
<rect x="621.30" y="258.40" width="2.8" height="2.40" fill="#800080"/>
<rect x="621.30" y="257.90" width="2.8" height="0.50" fill="#DD0000"/>
<rect x="621.30" y="241.30" width="2.8" height="16.60" fill="#008000"/>
<rect x="621.30" y="223.70" width="2.8" height="17.60" fill="#808080"/>
<rect x="626.78" y="260.80" width="2.8" height="1.30" fill="#0AC8FA"/>
<rect x="626.78" y="259.70" width="2.8" height="1.10" fill="#800080"/>
<rect x="626.78" y="238.30" width="2.8" height="21.40" fill="#008000"/>
<rect x="626.78" y="216.20" width="2.8" height="22.10" fill="#808080"/>
<rect x="632.25" y="260.80" width="2.8" height="1.30" fill="#0AC8FA"/>
<rect x="632.25" y="251.80" width="2.8" height="9.00" fill="#800080"/>
<rect x="632.25" y="250.90" width="2.8" height="0.90" fill="#00FF00"/>
<rect x="632.25" y="247.20" width="2.8" height="3.70" fill="#DD0000"/>
<rect x="632.25" y="235.80" width="2.8" height="11.40" fill="#008000"/>
<rect x="632.25" y="216.20" width="2.8" height="19.60" fill="#808080"/>
<rect x="637.72" y="261.00" width="2.8" height="1.10" fill="#0AC8FA"/>
<rect x="637.72" y="260.40" width="2.8" height="0.60" fill="#800080"/>
<rect x="637.72" y="259.90" width="2.8" height="0.50" fill="#DD0000"/>
<rect x="637.72" y="257.70" width="2.8" height="2.20" fill="#008000"/>
<rect x="637.72" y="253.90" width="2.8" height="3.80" fill="#808080"/>
<rect x="643.19" y="261.50" width="2.8" height="0.60" fill="#0AC8FA"/>
<rect x="643.19" y="257.20" width="2.8" height="4.30" fill="#800080"/>
<rect x="643.19" y="253.00" width="2.8" height="4.20" fill="#DD0000"/>
<rect x="643.19" y="227.50" width="2.8" height="25.50" fill="#008000"/>
<rect x="643.19" y="198.60" width="2.8" height="28.90" fill="#808080"/>
<rect x="648.66" y="261.50" width="2.8" height="0.60" fill="#0AC8FA"/>
<rect x="648.66" y="260.40" width="2.8" height="1.10" fill="#800080"/>
<rect x="648.66" y="235.80" width="2.8" height="24.60" fill="#008000"/>
<rect x="648.66" y="210.80" width="2.8" height="25.00" fill="#808080"/>
<rect x="654.14" y="261.70" width="2.8" height="0.40" fill="#0AC8FA"/>
<rect x="654.14" y="259.90" width="2.8" height="1.80" fill="#800080"/>
<rect x="654.14" y="258.40" width="2.8" height="1.50" fill="#DD0000"/>
<rect x="654.14" y="251.60" width="2.8" height="6.80" fill="#008000"/>
<rect x="654.14" y="241.10" width="2.8" height="10.50" fill="#808080"/>
<rect x="659.61" y="261.70" width="2.8" height="0.40" fill="#0AC8FA"/>
<rect x="659.61" y="259.90" width="2.8" height="1.80" fill="#800080"/>
<rect x="659.61" y="257.90" width="2.8" height="2.00" fill="#DD0000"/>
<rect x="659.61" y="248.80" width="2.8" height="9.10" fill="#008000"/>
<rect x="659.61" y="235.80" width="2.8" height="13.00" fill="#808080"/>
<rect x="665.08" y="261.70" width="2.8" height="0.40" fill="#0AC8FA"/>
<rect x="665.08" y="254.50" width="2.8" height="7.20" fill="#800080"/>
<rect x="665.08" y="251.20" width="2.8" height="3.30" fill="#DD0000"/>
<rect x="665.08" y="241.10" width="2.8" height="10.10" fill="#008000"/>
<rect x="665.08" y="223.70" width="2.8" height="17.40" fill="#808080"/>
<rect x="670.55" y="261.70" width="2.8" height="0.40" fill="#0AC8FA"/>
<rect x="670.55" y="260.40" width="2.8" height="1.30" fill="#800080"/>
<rect x="670.55" y="257.50" width="2.8" height="2.90" fill="#008000"/>
<rect x="670.55" y="253.00" width="2.8" height="4.50" fill="#808080"/>
<line x1="34.45" y1="4.30" x2="34.45" y2="262.60" stroke="#555" stroke-width="1.1"/>
<line x1="33.95" y1="262.55" x2="674.69" y2="262.55" stroke="#555" stroke-width="1.1"/>
<line x1="32.25" y1="262.10" x2="34.45" y2="262.10" stroke="#555" stroke-width="1"/>
<text x="28.3" y="266.20" font-size="11" text-anchor="end" fill="#111">0</text>
<line x1="32.25" y1="236.32" x2="34.45" y2="236.32" stroke="#555" stroke-width="1"/>
<text x="28.3" y="240.42" font-size="11" text-anchor="end" fill="#111">10</text>
<line x1="32.25" y1="210.54" x2="34.45" y2="210.54" stroke="#555" stroke-width="1"/>
<text x="28.3" y="214.64" font-size="11" text-anchor="end" fill="#111">20</text>
<line x1="32.25" y1="184.76" x2="34.45" y2="184.76" stroke="#555" stroke-width="1"/>
<text x="28.3" y="188.86" font-size="11" text-anchor="end" fill="#111">30</text>
<line x1="32.25" y1="158.98" x2="34.45" y2="158.98" stroke="#555" stroke-width="1"/>
<text x="28.3" y="163.08" font-size="11" text-anchor="end" fill="#111">40</text>
<line x1="32.25" y1="133.20" x2="34.45" y2="133.20" stroke="#555" stroke-width="1"/>
<text x="28.3" y="137.30" font-size="11" text-anchor="end" fill="#111">50</text>
<line x1="32.25" y1="107.42" x2="34.45" y2="107.42" stroke="#555" stroke-width="1"/>
<text x="28.3" y="111.52" font-size="11" text-anchor="end" fill="#111">60</text>
<line x1="32.25" y1="81.64" x2="34.45" y2="81.64" stroke="#555" stroke-width="1"/>
<text x="28.3" y="85.74" font-size="11" text-anchor="end" fill="#111">70</text>
<line x1="32.25" y1="55.86" x2="34.45" y2="55.86" stroke="#555" stroke-width="1"/>
<text x="28.3" y="59.96" font-size="11" text-anchor="end" fill="#111">80</text>
<line x1="32.25" y1="30.08" x2="34.45" y2="30.08" stroke="#555" stroke-width="1"/>
<text x="28.3" y="34.18" font-size="11" text-anchor="end" fill="#111">90</text>
<line x1="32.25" y1="4.30" x2="34.45" y2="4.30" stroke="#555" stroke-width="1"/>
<text x="28.3" y="8.40" font-size="11" text-anchor="end" fill="#111">100</text>
<line x1="34.46" y1="262.5" x2="34.46" y2="265" stroke="#444" stroke-width="1"/>
<line x1="39.94" y1="262.5" x2="39.94" y2="265" stroke="#444" stroke-width="1"/>
<line x1="45.41" y1="262.5" x2="45.41" y2="265" stroke="#444" stroke-width="1"/>
<line x1="50.88" y1="262.5" x2="50.88" y2="265" stroke="#444" stroke-width="1"/>
<line x1="56.35" y1="262.5" x2="56.35" y2="265" stroke="#444" stroke-width="1"/>
<line x1="61.82" y1="262.5" x2="61.82" y2="265" stroke="#444" stroke-width="1"/>
<line x1="67.30" y1="262.5" x2="67.30" y2="265" stroke="#444" stroke-width="1"/>
<line x1="72.77" y1="262.5" x2="72.77" y2="265" stroke="#444" stroke-width="1"/>
<line x1="78.24" y1="262.5" x2="78.24" y2="265" stroke="#444" stroke-width="1"/>
<line x1="83.71" y1="262.5" x2="83.71" y2="265" stroke="#444" stroke-width="1"/>
<line x1="89.18" y1="262.5" x2="89.18" y2="265" stroke="#444" stroke-width="1"/>
<line x1="94.66" y1="262.5" x2="94.66" y2="265" stroke="#444" stroke-width="1"/>
<line x1="100.13" y1="262.5" x2="100.13" y2="265" stroke="#444" stroke-width="1"/>
<line x1="105.60" y1="262.5" x2="105.60" y2="265" stroke="#444" stroke-width="1"/>
<line x1="111.07" y1="262.5" x2="111.07" y2="265" stroke="#444" stroke-width="1"/>
<line x1="116.54" y1="262.5" x2="116.54" y2="265" stroke="#444" stroke-width="1"/>
<line x1="122.02" y1="262.5" x2="122.02" y2="265" stroke="#444" stroke-width="1"/>
<line x1="127.49" y1="262.5" x2="127.49" y2="265" stroke="#444" stroke-width="1"/>
<line x1="132.96" y1="262.5" x2="132.96" y2="265" stroke="#444" stroke-width="1"/>
<line x1="138.43" y1="262.5" x2="138.43" y2="265" stroke="#444" stroke-width="1"/>
<line x1="143.90" y1="262.5" x2="143.90" y2="265" stroke="#444" stroke-width="1"/>
<line x1="149.38" y1="262.5" x2="149.38" y2="265" stroke="#444" stroke-width="1"/>
<line x1="154.85" y1="262.5" x2="154.85" y2="265" stroke="#444" stroke-width="1"/>
<line x1="160.32" y1="262.5" x2="160.32" y2="265" stroke="#444" stroke-width="1"/>
<line x1="165.79" y1="262.5" x2="165.79" y2="265" stroke="#444" stroke-width="1"/>
<line x1="171.26" y1="262.5" x2="171.26" y2="265" stroke="#444" stroke-width="1"/>
<line x1="176.74" y1="262.5" x2="176.74" y2="265" stroke="#444" stroke-width="1"/>
<line x1="182.21" y1="262.5" x2="182.21" y2="265" stroke="#444" stroke-width="1"/>
<line x1="187.68" y1="262.5" x2="187.68" y2="265" stroke="#444" stroke-width="1"/>
<line x1="193.15" y1="262.5" x2="193.15" y2="265" stroke="#444" stroke-width="1"/>
<line x1="198.62" y1="262.5" x2="198.62" y2="265" stroke="#444" stroke-width="1"/>
<line x1="204.10" y1="262.5" x2="204.10" y2="265" stroke="#444" stroke-width="1"/>
<line x1="209.57" y1="262.5" x2="209.57" y2="265" stroke="#444" stroke-width="1"/>
<line x1="215.04" y1="262.5" x2="215.04" y2="265" stroke="#444" stroke-width="1"/>
<line x1="220.51" y1="262.5" x2="220.51" y2="265" stroke="#444" stroke-width="1"/>
<line x1="225.98" y1="262.5" x2="225.98" y2="265" stroke="#444" stroke-width="1"/>
<line x1="231.46" y1="262.5" x2="231.46" y2="265" stroke="#444" stroke-width="1"/>
<line x1="236.93" y1="262.5" x2="236.93" y2="265" stroke="#444" stroke-width="1"/>
<line x1="242.40" y1="262.5" x2="242.40" y2="265" stroke="#444" stroke-width="1"/>
<line x1="247.87" y1="262.5" x2="247.87" y2="265" stroke="#444" stroke-width="1"/>
<line x1="253.34" y1="262.5" x2="253.34" y2="265" stroke="#444" stroke-width="1"/>
<line x1="258.82" y1="262.5" x2="258.82" y2="265" stroke="#444" stroke-width="1"/>
<line x1="264.29" y1="262.5" x2="264.29" y2="265" stroke="#444" stroke-width="1"/>
<line x1="269.76" y1="262.5" x2="269.76" y2="265" stroke="#444" stroke-width="1"/>
<line x1="275.23" y1="262.5" x2="275.23" y2="265" stroke="#444" stroke-width="1"/>
<line x1="280.70" y1="262.5" x2="280.70" y2="265" stroke="#444" stroke-width="1"/>
<line x1="286.18" y1="262.5" x2="286.18" y2="265" stroke="#444" stroke-width="1"/>
<line x1="291.65" y1="262.5" x2="291.65" y2="265" stroke="#444" stroke-width="1"/>
<line x1="297.12" y1="262.5" x2="297.12" y2="265" stroke="#444" stroke-width="1"/>
<line x1="302.59" y1="262.5" x2="302.59" y2="265" stroke="#444" stroke-width="1"/>
<line x1="308.06" y1="262.5" x2="308.06" y2="265" stroke="#444" stroke-width="1"/>
<line x1="313.54" y1="262.5" x2="313.54" y2="265" stroke="#444" stroke-width="1"/>
<line x1="319.01" y1="262.5" x2="319.01" y2="265" stroke="#444" stroke-width="1"/>
<line x1="324.48" y1="262.5" x2="324.48" y2="265" stroke="#444" stroke-width="1"/>
<line x1="329.95" y1="262.5" x2="329.95" y2="265" stroke="#444" stroke-width="1"/>
<line x1="335.42" y1="262.5" x2="335.42" y2="265" stroke="#444" stroke-width="1"/>
<line x1="340.90" y1="262.5" x2="340.90" y2="265" stroke="#444" stroke-width="1"/>
<line x1="346.37" y1="262.5" x2="346.37" y2="265" stroke="#444" stroke-width="1"/>
<line x1="351.84" y1="262.5" x2="351.84" y2="265" stroke="#444" stroke-width="1"/>
<line x1="357.31" y1="262.5" x2="357.31" y2="265" stroke="#444" stroke-width="1"/>
<line x1="362.78" y1="262.5" x2="362.78" y2="265" stroke="#444" stroke-width="1"/>
<line x1="368.26" y1="262.5" x2="368.26" y2="265" stroke="#444" stroke-width="1"/>
<line x1="373.73" y1="262.5" x2="373.73" y2="265" stroke="#444" stroke-width="1"/>
<line x1="379.20" y1="262.5" x2="379.20" y2="265" stroke="#444" stroke-width="1"/>
<line x1="384.67" y1="262.5" x2="384.67" y2="265" stroke="#444" stroke-width="1"/>
<line x1="390.14" y1="262.5" x2="390.14" y2="265" stroke="#444" stroke-width="1"/>
<line x1="395.62" y1="262.5" x2="395.62" y2="265" stroke="#444" stroke-width="1"/>
<line x1="401.09" y1="262.5" x2="401.09" y2="265" stroke="#444" stroke-width="1"/>
<line x1="406.56" y1="262.5" x2="406.56" y2="265" stroke="#444" stroke-width="1"/>
<line x1="412.03" y1="262.5" x2="412.03" y2="265" stroke="#444" stroke-width="1"/>
<line x1="417.50" y1="262.5" x2="417.50" y2="265" stroke="#444" stroke-width="1"/>
<line x1="422.98" y1="262.5" x2="422.98" y2="265" stroke="#444" stroke-width="1"/>
<line x1="428.45" y1="262.5" x2="428.45" y2="265" stroke="#444" stroke-width="1"/>
<line x1="433.92" y1="262.5" x2="433.92" y2="265" stroke="#444" stroke-width="1"/>
<line x1="439.39" y1="262.5" x2="439.39" y2="265" stroke="#444" stroke-width="1"/>
<line x1="444.86" y1="262.5" x2="444.86" y2="265" stroke="#444" stroke-width="1"/>
<line x1="450.34" y1="262.5" x2="450.34" y2="265" stroke="#444" stroke-width="1"/>
<line x1="455.81" y1="262.5" x2="455.81" y2="265" stroke="#444" stroke-width="1"/>
<line x1="461.28" y1="262.5" x2="461.28" y2="265" stroke="#444" stroke-width="1"/>
<line x1="466.75" y1="262.5" x2="466.75" y2="265" stroke="#444" stroke-width="1"/>
<line x1="472.22" y1="262.5" x2="472.22" y2="265" stroke="#444" stroke-width="1"/>
<line x1="477.70" y1="262.5" x2="477.70" y2="265" stroke="#444" stroke-width="1"/>
<line x1="483.17" y1="262.5" x2="483.17" y2="265" stroke="#444" stroke-width="1"/>
<line x1="488.64" y1="262.5" x2="488.64" y2="265" stroke="#444" stroke-width="1"/>
<line x1="494.11" y1="262.5" x2="494.11" y2="265" stroke="#444" stroke-width="1"/>
<line x1="499.58" y1="262.5" x2="499.58" y2="265" stroke="#444" stroke-width="1"/>
<line x1="505.06" y1="262.5" x2="505.06" y2="265" stroke="#444" stroke-width="1"/>
<line x1="510.53" y1="262.5" x2="510.53" y2="265" stroke="#444" stroke-width="1"/>
<line x1="516.00" y1="262.5" x2="516.00" y2="265" stroke="#444" stroke-width="1"/>
<line x1="521.47" y1="262.5" x2="521.47" y2="265" stroke="#444" stroke-width="1"/>
<line x1="526.94" y1="262.5" x2="526.94" y2="265" stroke="#444" stroke-width="1"/>
<line x1="532.42" y1="262.5" x2="532.42" y2="265" stroke="#444" stroke-width="1"/>
<line x1="537.89" y1="262.5" x2="537.89" y2="265" stroke="#444" stroke-width="1"/>
<line x1="543.36" y1="262.5" x2="543.36" y2="265" stroke="#444" stroke-width="1"/>
<line x1="548.83" y1="262.5" x2="548.83" y2="265" stroke="#444" stroke-width="1"/>
<line x1="554.30" y1="262.5" x2="554.30" y2="265" stroke="#444" stroke-width="1"/>
<line x1="559.78" y1="262.5" x2="559.78" y2="265" stroke="#444" stroke-width="1"/>
<line x1="565.25" y1="262.5" x2="565.25" y2="265" stroke="#444" stroke-width="1"/>
<line x1="570.72" y1="262.5" x2="570.72" y2="265" stroke="#444" stroke-width="1"/>
<line x1="576.19" y1="262.5" x2="576.19" y2="265" stroke="#444" stroke-width="1"/>
<line x1="581.66" y1="262.5" x2="581.66" y2="265" stroke="#444" stroke-width="1"/>
<line x1="587.14" y1="262.5" x2="587.14" y2="265" stroke="#444" stroke-width="1"/>
<line x1="592.61" y1="262.5" x2="592.61" y2="265" stroke="#444" stroke-width="1"/>
<line x1="598.08" y1="262.5" x2="598.08" y2="265" stroke="#444" stroke-width="1"/>
<line x1="603.55" y1="262.5" x2="603.55" y2="265" stroke="#444" stroke-width="1"/>
<line x1="609.02" y1="262.5" x2="609.02" y2="265" stroke="#444" stroke-width="1"/>
<line x1="614.50" y1="262.5" x2="614.50" y2="265" stroke="#444" stroke-width="1"/>
<line x1="619.97" y1="262.5" x2="619.97" y2="265" stroke="#444" stroke-width="1"/>
<line x1="625.44" y1="262.5" x2="625.44" y2="265" stroke="#444" stroke-width="1"/>
<line x1="630.91" y1="262.5" x2="630.91" y2="265" stroke="#444" stroke-width="1"/>
<line x1="636.38" y1="262.5" x2="636.38" y2="265" stroke="#444" stroke-width="1"/>
<line x1="641.86" y1="262.5" x2="641.86" y2="265" stroke="#444" stroke-width="1"/>
<line x1="647.33" y1="262.5" x2="647.33" y2="265" stroke="#444" stroke-width="1"/>
<line x1="652.80" y1="262.5" x2="652.80" y2="265" stroke="#444" stroke-width="1"/>
<line x1="658.27" y1="262.5" x2="658.27" y2="265" stroke="#444" stroke-width="1"/>
<line x1="663.74" y1="262.5" x2="663.74" y2="265" stroke="#444" stroke-width="1"/>
<line x1="669.22" y1="262.5" x2="669.22" y2="265" stroke="#444" stroke-width="1"/>
<line x1="674.69" y1="262.5" x2="674.69" y2="265" stroke="#444" stroke-width="1"/>
<text transform="translate(8.1,122.3) rotate(-90)" font-size="11" text-anchor="middle" fill="#111">Relative abundance (%)</text>
<text x="347.3" y="276.4" font-size="11" text-anchor="middle" fill="#111">Subjects (n=117)</text>
<rect x="87.4" y="12.1" width="158.9" height="99.2" rx="1" fill="#fff" stroke="#666" stroke-width="1.2"/>
<rect x="90.1" y="15.40" width="9.2" height="9.2" fill="#0AC8FA" stroke="#333" stroke-width="0.8"/>
<text x="105.6" y="23.70" font-size="11" fill="#111"><tspan font-style="italic">Haemophilus parainfluenzae</tspan></text>
<rect x="90.1" y="29.30" width="9.2" height="9.2" fill="#800080" stroke="#333" stroke-width="0.8"/>
<text x="105.6" y="37.60" font-size="11" fill="#111"><tspan font-style="italic">S. mitis</tspan></text>
<rect x="90.1" y="43.20" width="9.2" height="9.2" fill="#00FF00" stroke="#333" stroke-width="0.8"/>
<text x="105.6" y="51.50" font-size="11" fill="#111"><tspan font-style="italic">S. infantis</tspan></text>
<rect x="90.1" y="57.10" width="9.2" height="9.2" fill="#DD0000" stroke="#333" stroke-width="0.8"/>
<text x="105.6" y="65.40" font-size="11" fill="#111"><tspan font-style="italic">S. oralis</tspan></text>
<rect x="90.1" y="71.00" width="9.2" height="9.2" fill="#4596B4" stroke="#333" stroke-width="0.8"/>
<text x="105.6" y="79.30" font-size="11" fill="#111"><tspan font-style="italic">S. peroris</tspan></text>
<rect x="90.1" y="84.90" width="9.2" height="9.2" fill="#008000" stroke="#333" stroke-width="0.8"/>
<text x="105.6" y="93.20" font-size="11" fill="#111"><tspan font-style="italic">S. sanguinis</tspan></text>
<rect x="90.1" y="98.80" width="9.2" height="9.2" fill="#808080" stroke="#333" stroke-width="0.8"/>
<text x="105.6" y="107.10" font-size="11" fill="#111"><tspan font-style="italic">Streptococcus</tspan> remainder</text>
<rect x="349.3" y="35" width="317" height="115.2" fill="#fff" stroke="#808080" stroke-width="1.2"/>
<rect x="418.23" y="47.95" width="99.07" height="10.2" fill="#808080" stroke="#111" stroke-width="1.1"/>
<text x="524.8" y="57.05" font-size="11" font-style="italic" fill="#111">S. oralis</text>
<rect x="415.65" y="62.33" width="101.65" height="10.2" fill="#808080" stroke="#111" stroke-width="1.1"/>
<text x="524.8" y="71.42" font-size="11" font-style="italic" fill="#111">S. peroris</text>
<rect x="395.64" y="76.70" width="121.66" height="10.2" fill="#808080" stroke="#111" stroke-width="1.1"/>
<text x="524.8" y="85.80" font-size="11" font-style="italic" fill="#111">S. mitis</text>
<rect x="393.06" y="91.08" width="124.24" height="10.2" fill="#808080" stroke="#111" stroke-width="1.1"/>
<text x="524.8" y="100.17" font-size="11" font-style="italic" fill="#111">S. sanguinis</text>
<rect x="364.66" y="105.45" width="152.64" height="10.2" fill="#808080" stroke="#111" stroke-width="1.1"/>
<text x="524.8" y="114.55" font-size="11" font-style="italic" fill="#111">Haemophilus parainfluenzae</text>
<line x1="362.40" y1="39" x2="362.40" y2="125" stroke="#000" stroke-opacity="0.4" stroke-width="0.6" stroke-dasharray="1,1.2"/>
<text x="362.40" y="134.3" font-size="11" text-anchor="middle" fill="#111">-4.8</text>
<line x1="401.12" y1="39" x2="401.12" y2="125" stroke="#000" stroke-opacity="0.4" stroke-width="0.6" stroke-dasharray="1,1.2"/>
<text x="401.12" y="134.3" font-size="11" text-anchor="middle" fill="#111">-3.6</text>
<line x1="439.85" y1="39" x2="439.85" y2="125" stroke="#000" stroke-opacity="0.4" stroke-width="0.6" stroke-dasharray="1,1.2"/>
<text x="439.85" y="134.3" font-size="11" text-anchor="middle" fill="#111">-2.4</text>
<line x1="478.57" y1="39" x2="478.57" y2="125" stroke="#000" stroke-opacity="0.4" stroke-width="0.6" stroke-dasharray="1,1.2"/>
<text x="478.57" y="134.3" font-size="11" text-anchor="middle" fill="#111">-1.2</text>
<line x1="517.30" y1="39" x2="517.30" y2="125" stroke="#000" stroke-opacity="0.4" stroke-width="0.6" stroke-dasharray="1,1.2"/>
<text x="517.30" y="134.3" font-size="11" text-anchor="middle" fill="#111">0.0</text>
<text x="439.8" y="145.8" font-size="10" text-anchor="middle" fill="#111">LDA SCORE (log 10)</text>
</svg></body></html>
